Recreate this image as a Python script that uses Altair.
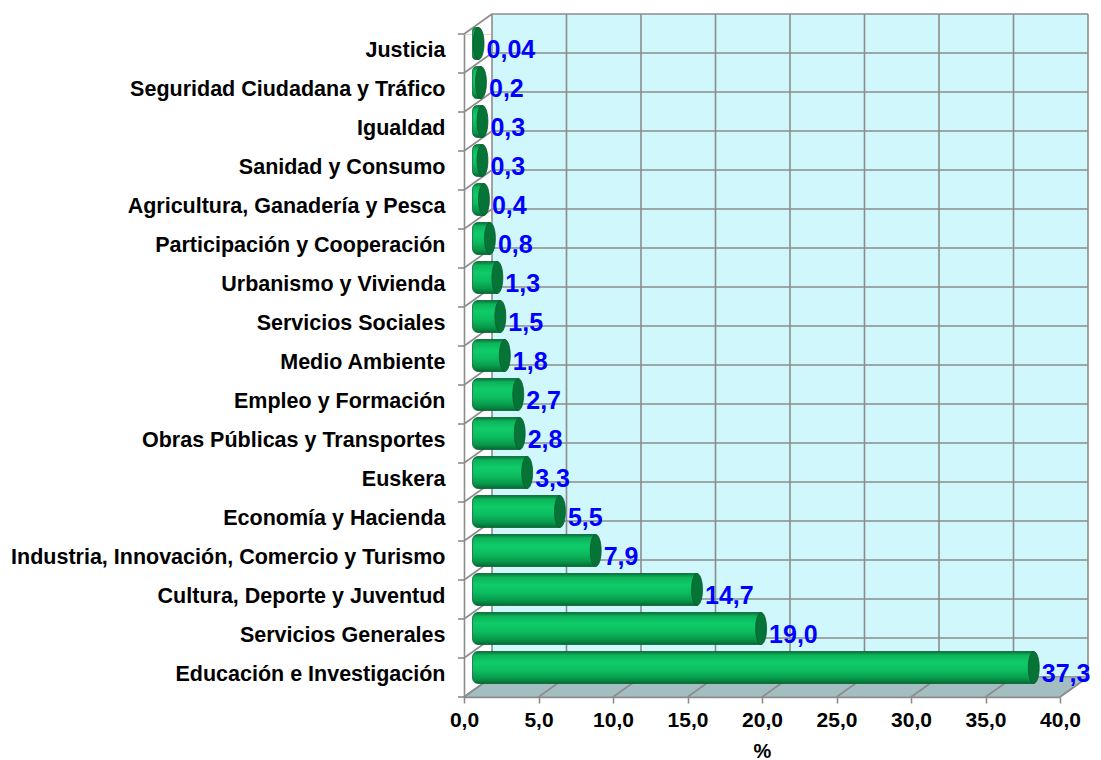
import json
import math
import altair as alt
import pandas as pd

# ---------------- data ----------------
CATEGORIES = [
    "Justicia",
    "Seguridad Ciudadana y Tráfico",
    "Igualdad",
    "Sanidad y Consumo",
    "Agricultura, Ganadería y Pesca",
    "Participación y Cooperación",
    "Urbanismo y Vivienda",
    "Servicios Sociales",
    "Medio Ambiente",
    "Empleo y Formación",
    "Obras Públicas y Transportes",
    "Euskera",
    "Economía y Hacienda",
    "Industria, Innovación, Comercio y Turismo",
    "Cultura, Deporte y Juventud",
    "Servicios Generales",
    "Educación e Investigación",
]
VALUES = [0.04, 0.2, 0.3, 0.3, 0.4, 0.8, 1.3, 1.5, 1.8, 2.7, 2.8, 3.3, 5.5, 7.9, 14.7, 19.0, 37.3]
LABELS = ["0,04", "0,2", "0,3", "0,3", "0,4", "0,8", "1,3", "1,5", "1,8", "2,7", "2,8",
          "3,3", "5,5", "7,9", "14,7", "19,0", "37,3"]
X_TICKS = [0, 5, 10, 15, 20, 25, 30, 35, 40]
X_MAX = 40

# ---------------- layout ----------------
W, H = 596, 663
N = len(CATEGORIES)
DX, DY = 28, -20          # depth shift of the back wall (px)
MX, MY = 14, -10          # mid-depth shift for the cylinders (px)
BAR_PX = 32               # cylinder diameter
CAP_RX = 0.34             # ellipse x-radius relative to half height
PX_X = W / X_MAX
PX_Y = H / N
FONT = "Liberation Sans"
GRID = "#8c8c8c"

df = pd.DataFrame({"cat": CATEGORIES, "idx": list(range(N)), "val": VALUES, "label": LABELS})
df["lo"] = df["idx"] - (BAR_PX / 2) / PX_Y
df["hi"] = df["idx"] + (BAR_PX / 2) / PX_Y
df["zero"] = 0.0

xs = alt.Scale(domain=[0, X_MAX], nice=False, zero=False)
ys = alt.Scale(domain=[N - 0.5, -0.5], nice=False, zero=False)

XAX = alt.Axis(values=X_TICKS, grid=False, tickSize=6, tickColor=GRID, tickWidth=1.6,
               domainColor=GRID, domainWidth=1.6, labelFlush=False,
               labelExpr="replace(format(datum.value, '.1f'), '.', ',')",
               labelFont=FONT, labelFontSize=21, labelFontWeight="bold", labelColor="#000000",
               labelPadding=6, title="%", titleFont=FONT, titleFontSize=20,
               titleFontWeight="bold", titleColor="#000000", titlePadding=11)
YAX = alt.Axis(values=list(range(N)), grid=False, ticks=False,
               domainColor=GRID, domainWidth=1.6,
               labelExpr=json.dumps(CATEGORIES, ensure_ascii=False) + "[datum.value]",
               labelFont=FONT, labelFontSize=21.5, labelFontWeight="bold", labelColor="#000000",
               labelPadding=19, labelLimit=800, labelOffset=-3, title=None)


def X(field):
    return alt.X(field, scale=xs, axis=XAX, title="%")


def Y(field):
    return alt.Y(field, scale=ys, axis=YAX, title=None)


wall_df = pd.DataFrame({"x0": [0.0], "x1": [float(X_MAX)], "y0": [-0.5], "y1": [N - 0.5]})
vgrid_df = pd.DataFrame({"x": X_TICKS, "y0": [-0.5] * len(X_TICKS), "y1": [N - 0.5] * len(X_TICKS)})
hgrid_df = pd.DataFrame({"b": [k - 0.5 for k in range(N + 1)], "x0": 0.0, "x1": float(X_MAX)})
floor_df = pd.DataFrame({
    "fy": [N - 0.5, N - 0.5 + DY / PX_Y],
    "fx": [0.0, DX / PX_X],
    "fx2": [float(X_MAX), X_MAX + DX / PX_X],
})
fgrid_df = pd.DataFrame({"x": X_TICKS, "y": [N - 0.5] * len(X_TICKS)})

# back wall
wall = alt.Chart(wall_df).mark_rect(
    color="#d0f7fb", xOffset=DX, x2Offset=DX, yOffset=DY, y2Offset=DY
).encode(x=X("x0:Q"), x2="x1:Q", y=Y("y0:Q"), y2="y1:Q")
vgrid = alt.Chart(vgrid_df).mark_rule(
    color=GRID, strokeWidth=1.6, xOffset=DX, yOffset=DY, y2Offset=DY
).encode(x=X("x:Q"), y=Y("y0:Q"), y2="y1:Q")
hgrid = alt.Chart(hgrid_df).mark_rule(
    color=GRID, strokeWidth=1.6, xOffset=DX, x2Offset=DX, yOffset=DY
).encode(x=X("x0:Q"), x2="x1:Q", y=Y("b:Q"))
side = alt.Chart(hgrid_df).mark_rule(
    color=GRID, strokeWidth=1.6, x2Offset=DX, y2Offset=DY
).encode(x=X("x0:Q"), x2="x0:Q", y=Y("b:Q"), y2="b:Q")
lticks = alt.Chart(hgrid_df).mark_rule(
    color=GRID, strokeWidth=1.6, x2Offset=-6
).encode(x=X("x0:Q"), x2="x0:Q", y=Y("b:Q"))
floor = alt.Chart(floor_df).mark_area(
    orient="horizontal", color="#a3bec1", stroke=GRID, strokeWidth=1.2
).encode(y=Y("fy:Q"), x=X("fx:Q"), x2="fx2:Q")
fgrid = alt.Chart(fgrid_df).mark_rule(
    color=GRID, strokeWidth=1.6, x2Offset=DX, y2Offset=DY
).encode(x=X("x:Q"), x2="x:Q", y=Y("y:Q"), y2="y:Q")

# cylinders
body_grad = alt.Gradient(
    gradient="linear", x1=0, x2=0, y1=0, y2=1,
    stops=[
        alt.GradientStop(color="#06733a", offset=0),
        alt.GradientStop(color="#0db45b", offset=0.12),
        alt.GradientStop(color="#0fcb69", offset=0.35),
        alt.GradientStop(color="#0cbd60", offset=0.6),
        alt.GradientStop(color="#08974a", offset=0.85),
        alt.GradientStop(color="#056a34", offset=1),
    ],
)
r = BAR_PX / 2 * CAP_RX
bars = alt.Chart(df).mark_rect(
    fill=body_grad, stroke="#05612f", strokeWidth=0.8,
    xOffset=MX - r, x2Offset=MX, yOffset=MY, y2Offset=MY,
    cornerRadiusTopLeft=r, cornerRadiusBottomLeft=r,
).encode(x=X("zero:Q"), x2="val:Q", y=Y("lo:Q"), y2="hi:Q")

pts = []
for k in range(36):
    a = 2 * math.pi * k / 36
    pts.append(f"{CAP_RX * math.cos(a):.4f} {math.sin(a):.4f}")
ELLIPSE = "M " + " L ".join(pts) + " Z"
caps = alt.Chart(df).mark_point(
    shape=ELLIPSE, size=BAR_PX ** 2, filled=True, fill="#077437", stroke="#055a2c",
    strokeWidth=0.8, opacity=1, xOffset=MX, yOffset=MY,
).encode(x=X("val:Q"), y=Y("idx:Q"))
labels = alt.Chart(df).mark_text(
    align="left", baseline="middle", font=FONT, fontSize=25, fontWeight="bold",
    color="#0000ff", xOffset=MX, yOffset=MY, dx=8, dy=6,
).encode(x=X("val:Q"), y=Y("idx:Q"), text="label:N")

chart = alt.layer(
    wall, vgrid, hgrid, side, floor, fgrid, lticks, bars, caps, labels
).properties(
    width=W, height=H,
    padding={"left": 456, "top": 26, "right": 33, "bottom": 63},
    autosize=alt.AutoSizeParams(type="none"),
).configure_view(stroke=None).configure(background="#ffffff")

chart.save("out.html", embed_options={"renderer": "svg", "actions": False})
